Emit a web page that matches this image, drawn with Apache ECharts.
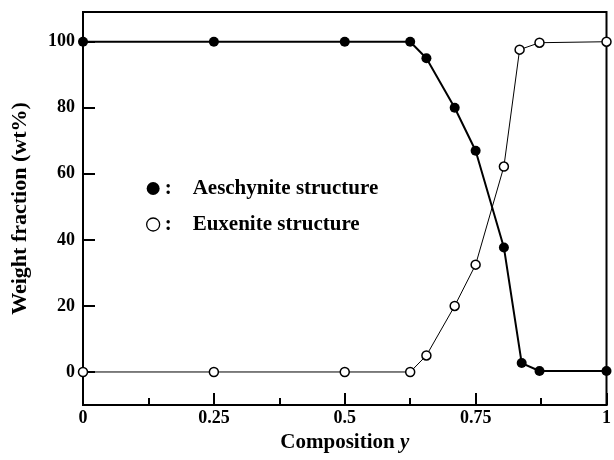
<!DOCTYPE html>
<html><head><meta charset="utf-8">
<script src="https://cdn.jsdelivr.net/npm/echarts@6/dist/echarts.min.js"></script>
<style>html,body{margin:0;padding:0;background:#fff}#c{width:614px;height:460px}</style>
</head><body><div id="c"></div>
<script>
const aeschX = [0, 0.25, 0.5, 0.625, 0.656, 0.71, 0.75, 0.804, 0.838, 0.872, 1];
const aeschY = [100, 100, 100, 100, 95, 80, 67, 37.7, 2.7, 0.3, 0.3];
const euxX = [0, 0.25, 0.5, 0.625, 0.656, 0.71, 0.75, 0.804, 0.834, 0.872, 1];
const euxY = [0, 0, 0, 0, 5, 20, 32.5, 62.2, 97.6, 99.7, 100];
const yTicks = [0, 20, 40, 60, 80, 100];
const names = ['Aeschynite structure', 'Euxenite structure'];
const font = 'Liberation Serif';
const chart = echarts.init(document.getElementById('c'));
chart.setOption({
  animation: false,
  grid: {left: 83, right: 6, top: 12, bottom: 55, show: true, borderColor: '#000', borderWidth: 2},
  legend: {
    orient: 'vertical', left: 141, top: 173, itemGap: 15, itemWidth: 13, itemHeight: 13,
    textStyle: {fontFamily: font, fontWeight: 'bold', fontSize: 21, color: '#000'},
    formatter: n => ':    ' + n,
    data: [
      {name: names[0], icon: 'circle', itemStyle: {color: '#000', borderWidth: 0}},
      {name: names[1], icon: 'circle', itemStyle: {color: '#fff', borderColor: '#000', borderWidth: 1.3}}
    ]
  },
  xAxis: {
    type: 'value', min: 0, max: 1, interval: 0.25,
    name: 'Composition {i|y}', nameLocation: 'middle', nameGap: 25,
    nameTextStyle: {fontFamily: font, fontWeight: 'bold', fontSize: 21, color: '#000',
      rich: {i: {fontFamily: font, fontWeight: 'bold', fontStyle: 'italic', fontSize: 21, color: '#000'}}},
    axisLine: {onZero: false, lineStyle: {color: '#000', width: 2}},
    axisTick: {inside: true, length: 12, lineStyle: {color: '#000', width: 2}},
    minorTick: {show: true, splitNumber: 2, length: 7, lineStyle: {color: '#000', width: 2}},
    splitLine: {show: false},
    axisLabel: {fontFamily: font, fontWeight: 'bold', fontSize: 18, color: '#000', margin: 4,
      formatter: v => String(v)}
  },
  yAxis: {
    type: 'value', min: -10, max: 109,
    name: 'Weight fraction (wt%)', nameLocation: 'middle', nameGap: 52,
    nameTextStyle: {fontFamily: font, fontWeight: 'bold', fontSize: 22, color: '#000'},
    axisLine: {onZero: false, lineStyle: {color: '#000', width: 2}},
    axisTick: {inside: true, length: 12, customValues: yTicks, lineStyle: {color: '#000', width: 2}},
    splitLine: {show: false},
    axisLabel: {fontFamily: font, fontWeight: 'bold', fontSize: 18, color: '#000', margin: 8,
      customValues: yTicks}
  },
  series: [
    {name: names[0], type: 'line', data: aeschX.map((x, i) => [x, aeschY[i]]),
      symbol: 'circle', symbolSize: 10, lineStyle: {color: '#000', width: 2},
      itemStyle: {color: '#000'}, z: 3},
    {name: names[1], type: 'line', data: euxX.map((x, i) => [x, euxY[i]]),
      symbol: 'circle', symbolSize: 9, lineStyle: {color: '#000', width: 1},
      itemStyle: {color: '#fff', borderColor: '#000', borderWidth: 1.5}, z: 4}
  ]
});
</script></body></html>
